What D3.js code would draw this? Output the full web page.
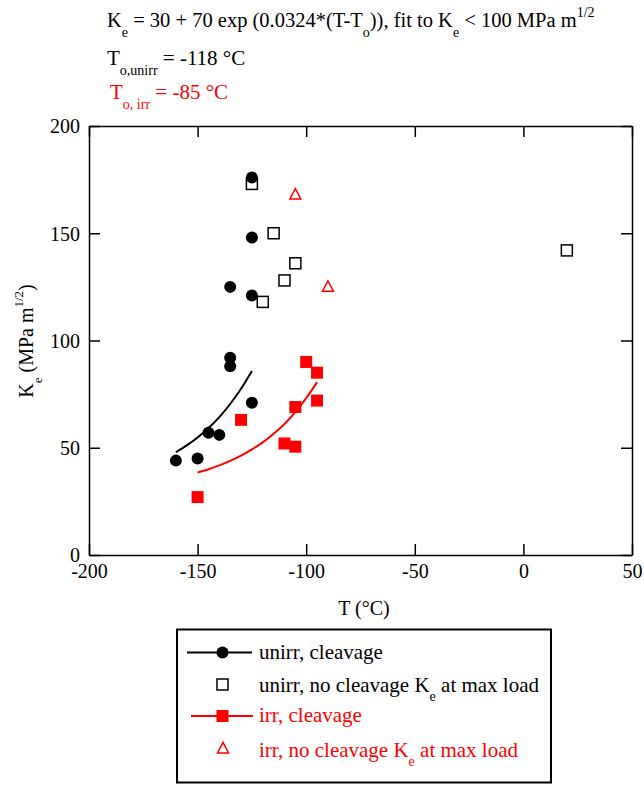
<!DOCTYPE html>
<html>
<head>
<meta charset="utf-8">
<script src="https://cdn.jsdelivr.net/npm/d3@7"></script>
<style>
  body { margin: 0; background: #fff; }
  svg { display: block; }
  .axis path, .axis line { stroke: #000; stroke-width: 1.5; }
</style>
</head>
<body>
<div id="chart"></div>
<script>
{ // start block scope

  // data
  const unirrCleavageT = [-125, -125, -135, -125, -135, -135, -125, -145, -140, -150, -160];
  const unirrCleavageK = [176, 148, 125, 121, 92, 88, 71, 57, 56, 45, 44];

  const unirrNoCleavageT = [-125, -115, -105, -110, -120, 20];
  const unirrNoCleavageK = [173, 150, 136, 128, 118, 142];

  const irrCleavageT = [-100, -95, -95, -105, -130, -110, -105, -150];
  const irrCleavageK = [90, 85, 72, 69, 63, 52, 50.5, 27];

  const irrNoCleavageT = [-105, -90];
  const irrNoCleavageK = [168, 125];

  // fit curves
  const unirrFitT = [-160, -155, -150, -145, -140, -135, -130, -125];
  const unirrFitK = [47.9, 51.1, 54.8, 59.2, 64.3, 70.4, 77.5, 85.8];
  const irrFitT = [-150, -145, -140, -135, -130, -125, -120, -115, -110, -105, -100, -95];
  const irrFitK = [38.5, 40.0, 41.8, 43.9, 46.3, 49.2, 52.5, 56.5, 61.1, 66.6, 73.1, 80.6];

  const xTicks = [-200, -150, -100, -50, 0, 50];
  const yTicks = [0, 50, 100, 150, 200];

  const zip = (a, b) => a.map((v, i) => [v, b[i]]);

  const color = { black: '#000000', red: '#ff0000' };
  const serif = '"Liberation Serif", "Times New Roman", serif';

  // layout
  const totalWidth = 644;
  const totalHeight = 785;
  const plot = { left: 89, right: 632, top: 126, bottom: 555 };

  var svg = d3.select('#chart')
    .append('svg')
    .attr('width', totalWidth)
    .attr('height', totalHeight)
    .attr('font-family', serif);

  // scales
  const xScale = d3.scaleLinear().domain([-200, 50]).range([plot.left, plot.right]);
  const yScale = d3.scaleLinear().domain([0, 200]).range([plot.bottom, plot.top]);

  // axes, ticks inward
  const tick = 11;
  const fmt = d => String(d);
  var xAxisG = svg.append('g')
    .attr('class', 'axis')
    .attr('transform', `translate(0, ${plot.bottom})`)
    .call(d3.axisBottom(xScale).tickValues(xTicks).tickSizeInner(-tick).tickSizeOuter(0).tickPadding(11).tickFormat(fmt));
  svg.append('g')
    .attr('class', 'axis')
    .attr('transform', `translate(0, ${plot.top})`)
    .call(d3.axisTop(xScale).tickValues(xTicks).tickSizeInner(-tick).tickSizeOuter(0).tickFormat(''));
  var yAxisG = svg.append('g')
    .attr('class', 'axis')
    .attr('transform', `translate(${plot.left}, 0)`)
    .call(d3.axisLeft(yScale).tickValues(yTicks).tickSizeInner(-tick).tickSizeOuter(0).tickPadding(9).tickFormat(fmt));
  svg.append('g')
    .attr('class', 'axis')
    .attr('transform', `translate(${plot.right}, 0)`)
    .call(d3.axisRight(yScale).tickValues(yTicks).tickSizeInner(-tick).tickSizeOuter(0).tickFormat(''));

  svg.selectAll('.axis')
    .attr('font-family', serif)
    .attr('font-size', 20);
  svg.selectAll('.axis text').attr('fill', color.black);
  xAxisG.selectAll('text').attr('dy', '0.62em');
  yAxisG.selectAll('text').attr('dy', '0.34em');

  // axis titles
  svg.append('text')
    .attr('x', 364)
    .attr('y', 615)
    .attr('text-anchor', 'middle')
    .attr('font-size', 20)
    .text('T (°C)');

  var yTitle = svg.append('text')
    .attr('transform', 'translate(33, 341) rotate(-90)')
    .attr('text-anchor', 'middle')
    .attr('font-size', 20);
  yTitle.append('tspan').text('K');
  yTitle.append('tspan').attr('dy', 9).attr('font-size', 13).text('e');
  yTitle.append('tspan').attr('dy', -9).text(' (MPa m');
  yTitle.append('tspan').attr('dy', -10).attr('font-size', 13).text('1/2');
  yTitle.append('tspan').attr('dy', 10).text(')');

  // header text
  var l1 = svg.append('text').attr('x', 107).attr('y', 27).attr('font-size', 20.5);
  l1.append('tspan').text('K');
  l1.append('tspan').attr('dy', 10).attr('font-size', 14).text('e');
  l1.append('tspan').attr('dy', -10).text(' = 30 + 70 exp (0.0324*(T-T');
  l1.append('tspan').attr('dy', 10).attr('font-size', 14).text('o');
  l1.append('tspan').attr('dy', -10).text(')), fit to K');
  l1.append('tspan').attr('dy', 10).attr('font-size', 14).text('e');
  l1.append('tspan').attr('dy', -10).text(' < 100 MPa m');
  l1.append('tspan').attr('dy', -10).attr('font-size', 14).text('1/2');

  var l2 = svg.append('text').attr('x', 107).attr('y', 65).attr('font-size', 21);
  l2.append('tspan').text('T');
  l2.append('tspan').attr('dy', 10).attr('font-size', 14).text('o,unirr');
  l2.append('tspan').attr('dy', -10).text(' = -118 °C');

  var l3 = svg.append('text').attr('x', 110).attr('y', 99).attr('font-size', 21).attr('fill', color.red);
  l3.append('tspan').text('T');
  l3.append('tspan').attr('dy', 10).attr('font-size', 14).text('o, irr');
  l3.append('tspan').attr('dy', -10).text(' = -85 °C');

  // fit lines
  const line = d3.line()
    .x(d => xScale(d[0]))
    .y(d => yScale(d[1]))
    .curve(d3.curveMonotoneX);

  svg.append('path')
    .datum(zip(unirrFitT, unirrFitK))
    .attr('d', line)
    .attr('fill', 'none')
    .attr('stroke', color.black)
    .attr('stroke-width', 2);
  svg.append('path')
    .datum(zip(irrFitT, irrFitK))
    .attr('d', line)
    .attr('fill', 'none')
    .attr('stroke', color.red)
    .attr('stroke-width', 2);

  // markers
  function circle(g, x, y) {
    return g.append('circle').attr('cx', x).attr('cy', y).attr('r', 6).attr('fill', color.black);
  }
  function openSquare(g, x, y) {
    return g.append('rect').attr('x', x - 5.5).attr('y', y - 5.5).attr('width', 11).attr('height', 11)
      .attr('fill', 'none').attr('stroke', color.black).attr('stroke-width', 1.5);
  }
  function filledSquare(g, x, y) {
    return g.append('rect').attr('x', x - 6).attr('y', y - 6).attr('width', 12).attr('height', 12)
      .attr('fill', color.red);
  }
  function triangle(g, x, y) {
    const s = 5.5;
    return g.append('path')
      .attr('d', `M${x},${y - s * 1.1}L${x + s},${y + s * 0.8}L${x - s},${y + s * 0.8}Z`)
      .attr('fill', 'none').attr('stroke', color.red).attr('stroke-width', 1.5);
  }

  var marks = svg.append('g');
  zip(unirrNoCleavageT, unirrNoCleavageK).forEach(d => openSquare(marks, xScale(d[0]), yScale(d[1])));
  zip(unirrCleavageT, unirrCleavageK).forEach(d => circle(marks, xScale(d[0]), yScale(d[1])));
  zip(irrCleavageT, irrCleavageK).forEach(d => filledSquare(marks, xScale(d[0]), yScale(d[1])));
  zip(irrNoCleavageT, irrNoCleavageK).forEach(d => triangle(marks, xScale(d[0]), yScale(d[1])));

  // legend
  var legend = svg.append('g');
  legend.append('rect')
    .attr('x', 177).attr('y', 629.5).attr('width', 374).attr('height', 153)
    .attr('fill', 'none').attr('stroke', color.black).attr('stroke-width', 2);

  const lx = 222.5, tx = 259, lfs = 21;
  // row 1
  legend.append('line').attr('x1', 187).attr('x2', 252).attr('y1', 652.5).attr('y2', 652.5)
    .attr('stroke', color.black).attr('stroke-width', 2);
  circle(legend, lx, 652.5);
  legend.append('text').attr('x', tx).attr('y', 659).attr('font-size', lfs).text('unirr, cleavage');
  // row 2
  openSquare(legend, lx, 684.5);
  var r2 = legend.append('text').attr('x', tx).attr('y', 692).attr('font-size', lfs);
  r2.append('tspan').text('unirr, no cleavage K');
  r2.append('tspan').attr('dy', 9).attr('font-size', 14).text('e');
  r2.append('tspan').attr('dy', -9).text(' at max load');
  // row 3
  legend.append('line').attr('x1', 191).attr('x2', 253).attr('y1', 716).attr('y2', 716)
    .attr('stroke', color.red).attr('stroke-width', 2);
  filledSquare(legend, lx, 716);
  legend.append('text').attr('x', tx).attr('y', 722).attr('font-size', lfs).attr('fill', color.red)
    .text('irr, cleavage');
  // row 4
  triangle(legend, lx + 0.5, 748.5);
  var r4 = legend.append('text').attr('x', tx).attr('y', 757).attr('font-size', lfs).attr('fill', color.red);
  r4.append('tspan').text('irr, no cleavage K');
  r4.append('tspan').attr('dy', 9).attr('font-size', 14).text('e');
  r4.append('tspan').attr('dy', -9).text(' at max load');

} // end block scope
</script>
</body>
</html>
